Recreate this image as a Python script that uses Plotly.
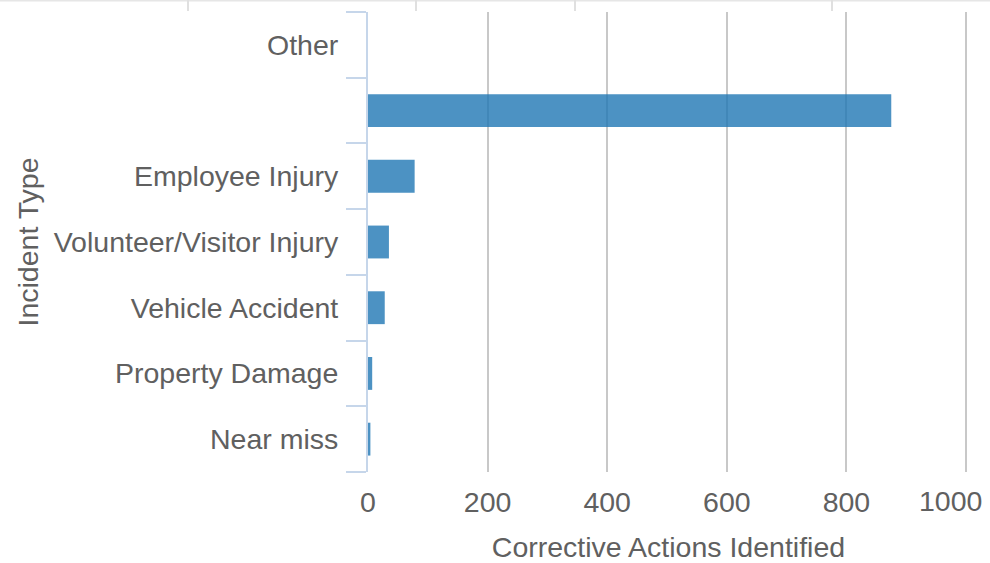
import plotly.graph_objects as go

categories = ["Near miss", "Property Damage", "Vehicle Accident",
              "Volunteer/Visitor Injury", "Employee Injury", " ", "Other"]
values = [4, 7, 28, 35, 78, 875, 0]
x_ticks = [0, 200, 400, 600, 800, 1000]
x_tick_labels = ["0", "200", "400", "600", "800", "1000"]

FONT = "Liberation Sans, Arial, sans-serif"
TXT = "#606060"
FS = 28.5

L, R, T, B = 368, 21, 12, 91
PW = 990 - L - R
PH = 563 - T - B

fig = go.Figure(
    go.Bar(
        x=values,
        y=categories,
        orientation="h",
        width=0.5,
        marker=dict(color="rgba(31,119,180,0.8)", line=dict(width=0)),
    )
)

fig.update_layout(
    width=990,
    height=563,
    margin=dict(l=L, r=R, t=T, b=B, autoexpand=False),
    plot_bgcolor="white",
    paper_bgcolor="white",
    font=dict(family=FONT, size=FS, color=TXT),
    showlegend=False,
)

# last label is drawn as an annotation, nudged left to stay inside the image
fig.update_xaxes(
    automargin=False,
    range=[0, 1005],
    tickvals=x_ticks,
    ticktext=x_tick_labels[:-1] + [""],
    showgrid=True,
    gridcolor="#c8c8c8",
    gridwidth=2,
    zeroline=False,
    showline=False,
    ticks="",
    ticklabelstandoff=10,
    tickfont=dict(size=FS, color=TXT),
    title=dict(text="Corrective Actions Identified", font=dict(size=FS, color=TXT), standoff=20),
    fixedrange=True,
)
fig.add_annotation(
    x=x_ticks[-1], xref="x", y=0, yref="paper",
    text=x_tick_labels[-1], showarrow=False,
    xanchor="right", yanchor="top", xshift=18, yshift=-11,
    font=dict(size=FS, color=TXT, family=FONT),
)

fig.update_yaxes(
    automargin=False,
    type="category",
    categoryorder="array",
    categoryarray=categories,
    showgrid=False,
    showline=True,
    linecolor="#c6d6ea",
    linewidth=2,
    ticks="outside",
    tickson="boundaries",
    ticklen=20,
    tickcolor="#c6d6ea",
    tickwidth=2,
    ticklabelstandoff=22,
    tickfont=dict(size=FS, color=TXT),
    title=dict(text="Incident Type", font=dict(size=FS, color=TXT), standoff=7),
    fixedrange=True,
)

# faint remnant of an axis at the top edge of the image
top_ticks_px = [188, 416, 575, 832]
fig.add_shape(type="line", xref="paper", yref="paper",
              x0=-L / PW, x1=(990 - L) / PW, y0=1 + 11.5 / PH, y1=1 + 11.5 / PH,
              line=dict(color="#e6e6e6", width=2))
for px in top_ticks_px:
    xp = (px - L) / PW
    fig.add_shape(type="line", xref="paper", yref="paper",
                  x0=xp, x1=xp, y0=1 + 12 / PH, y1=1 + 1 / PH,
                  line=dict(color="#e0e0e0", width=2))

fig.write_html("out.html", config={"displayModeBar": False},
               post_script="document.body.style.margin='0';document.body.style.overflow='hidden';")
